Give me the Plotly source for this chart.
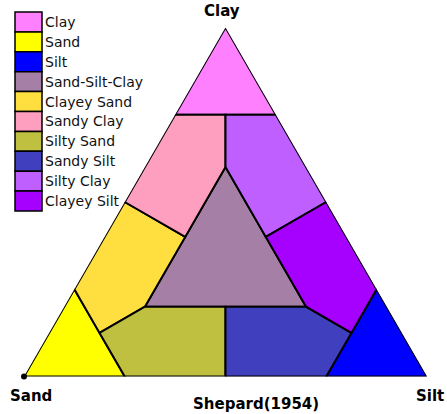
import plotly.graph_objects as go

W, H = 447, 414

# Region names (legend order) and colours
names = ["Clay", "Sand", "Silt", "Sand-Silt-Clay", "Clayey Sand", "Sandy Clay",
         "Silty Sand", "Sandy Silt", "Silty Clay", "Clayey Silt"]
colors = ["#FF80FF", "#FFFF00", "#0000FF", "#A67FA6", "#FFDF40", "#FF9FBF",
          "#BFBF40", "#4040BF", "#BF5FFF", "#A600FF"]

# Polygon vertices in percent (sand, silt, clay)
sand_v = [
    [0, 25, 0],
    [100, 75, 75],
    [0, 25, 0],
    [60, 20, 20],
    [75, 50, 40, 60, 75],
    [25, 12.5, 20, 40, 50],
    [75, 60, 40, 50, 75],
    [50, 40, 20, 12.5, 25],
    [0, 12.5, 20, 20, 0],
    [12.5, 20, 20, 0, 0],
]
silt_v = [
    [0, 0, 25],
    [0, 25, 0],
    [100, 75, 75],
    [20, 60, 20],
    [0, 0, 20, 20, 12.5],
    [0, 12.5, 20, 20, 0],
    [12.5, 20, 40, 50, 25],
    [50, 40, 60, 75, 75],
    [25, 12.5, 20, 40, 50],
    [75, 60, 40, 50, 75],
]
clay_v = [
    [100, 75, 75],
    [0, 0, 25],
    [0, 0, 25],
    [20, 20, 60],
    [25, 50, 40, 20, 12.5],
    [75, 75, 60, 40, 50],
    [12.5, 20, 20, 0, 0],
    [0, 20, 20, 12.5, 0],
    [75, 75, 60, 40, 50],
    [12.5, 20, 40, 50, 25],
]

fig = go.Figure()
for nm, col, s, si, c in zip(names, colors, sand_v, silt_v, clay_v):
    fig.add_trace(go.Scatterternary(
        a=c + [c[0]], b=s + [s[0]], c=si + [si[0]],
        mode="lines", fill="toself", fillcolor=col,
        line=dict(color="black", width=2), name=nm, showlegend=False,
        hoverinfo="name"))

# dot at sand vertex
fig.add_trace(go.Scatterternary(a=[0], b=[100], c=[0], mode="markers",
                                marker=dict(color="black", size=6),
                                showlegend=False, hoverinfo="skip",
                                cliponaxis=False))


def px(x):
    return x / W


def py(y):
    return 1 - y / H


axis_hidden = dict(showticklabels=False, showgrid=False, showline=False,
                   ticks="", title=dict(text=""), linewidth=0)
fig.update_layout(
    width=W, height=H,
    margin=dict(l=0, r=0, t=0, b=0),
    paper_bgcolor="white", plot_bgcolor="white",
    ternary=dict(
        sum=100,
        domain=dict(x=[px(24), px(427)], y=[py(377), py(27)]),
        bgcolor="white",
        aaxis=axis_hidden, baxis=axis_hidden, caxis=axis_hidden,
    ),
    showlegend=False,
)

# Legend drawn as boxes + labels
lx0, lx1, ly0, cell = 15, 42, 12, 19.9
shapes = []
annotations = []
for i, (nm, col) in enumerate(zip(names, colors)):
    y0 = ly0 + i * cell
    y1 = y0 + cell
    shapes.append(dict(type="rect", xref="paper", yref="paper",
                       x0=px(lx0), x1=px(lx1), y0=py(y1), y1=py(y0),
                       fillcolor=col, line=dict(color="black", width=1.5)))
    annotations.append(dict(text=nm, xref="paper", yref="paper",
                            x=px(43), y=py(y0 + cell / 2),
                            xanchor="left", yanchor="middle", showarrow=False,
                            font=dict(family="DejaVu Sans", size=14, color="#111")))

bold = dict(family="DejaVu Sans", size=15, color="black")
for txt, tx, ty in [("<b>Clay</b>", 222, 11), ("<b>Sand</b>", 31, 396),
                    ("<b>Silt</b>", 430, 396), ("<b>Shepard(1954)</b>", 256, 404)]:
    annotations.append(dict(text=txt, xref="paper", yref="paper",
                            x=px(tx), y=py(ty), xanchor="center",
                            yanchor="middle", showarrow=False, font=bold))

fig.update_layout(shapes=shapes, annotations=annotations)
fig.write_html("out.html",
               config=dict(displayModeBar=False),
               post_script="document.body.style.margin='0px';"
                           "document.documentElement.style.overflow='hidden';")
